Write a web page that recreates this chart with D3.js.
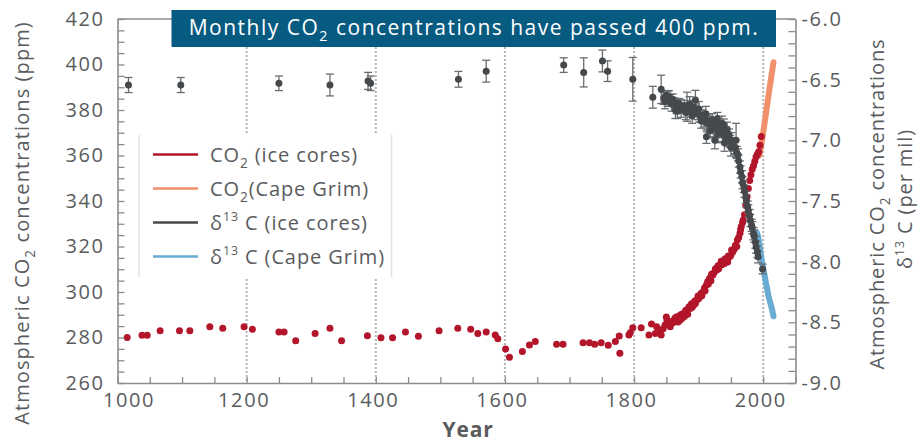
<!DOCTYPE html>
<html>
<head>
<meta charset="utf-8">
<script src="https://cdn.jsdelivr.net/npm/d3@7"></script>
<style>
  html, body { margin: 0; padding: 0; background: #fff; }
  svg { display: block; font-family: "Open Sans", "Noto Sans", sans-serif; }
</style>
</head>
<body>
<svg id="chart" width="923" height="444"></svg>
<script>
// ---- Data -------------------------------------------------------------
// CO2 from ice cores: [year, ppm]
const co2Ice = [
  [1015,280],[1038,281],[1046,281],[1066,283],[1096,283],[1112,283],[1143,284.7],[1163,284.1],
  [1196,284.7],[1209,283.6],[1250,282.4],[1258,282.4],[1276,278.6],[1306,281.8],[1329,284.1],
  [1347,278.6],[1387,280.8],[1408,279.9],[1426,279.9],[1446,282.4],[1466,280.5],[1498,283],
  [1527,284.1],[1547,283.6],[1558,281.8],[1571,282.4],[1585,281.1],[1589,279.4],[1601,274.9],
  [1607,271.3],[1627,273.8],[1638,276.7],[1647,278.2],[1680,277],[1690,277],[1721,277.7],
  [1731,277.7],[1739,277],[1749,277.7],[1760,276.6],[1771,278.2],[1777,280.7],[1778,273.1],
  [1792,281.1],[1794,282.1],[1798,284.3],[1811,284.3],[1823,281.1],[1827,285.9],[1833,281.8],
  [1835,284.7],[1840,282.8],[1842,281.1],[1845,283.9],[1848,285.5],[1850,289],[1851,287.6],
  [1853,286],[1856,284.7],[1858,287],[1860,286.5],[1861,286.9],[1863,288.5],[1866,289.1],
  [1868,286.8],[1871,287.6],[1872,290],[1874,288.4],[1876,290.5],[1878,289.2],[1880,292],
  [1881,291.3],[1883,290.2],[1885,293.5],[1887,292.8],[1889,294.8],[1890,293.3],[1892,294.2],
  [1894,296],[1895,295],[1897,296.5],[1899,298.2],[1900,297],[1902,297.9],[1904,299.5],
  [1905,298.4],[1907,300.1],[1909,301.8],[1910,300.6],[1912,303.1],[1914,304.6],[1915,303.5],
  [1917,306],[1919,305],[1920,307.8],[1922,307.5],[1924,308.6],[1926,310.2],[1928,309.7],
  [1930,311.5],[1931,310.2],[1933,311.9],[1935,313.5],[1936,312],[1938,313.3],[1940,312.5],
  [1941,314.6],[1943,314.1],[1945,313.2],[1946,315.8],[1948,315.5],[1950,316.2],[1951,318.5],
  [1953,317.7],[1955,318.8],[1957,320.5],[1959,320],[1960,322.9],[1962,324],[1964,325.8],
  [1965,327.5],[1966,328.8],[1968,330.5],[1969,331.6],[1971,334],[1973,338],[1975,341.9],
  [1977,345.5],[1979,349],[1981,351.5],[1983,354],[1985,355.5],[1987,357.5],[1989,359.5],
  [1991,360.5],[1993,361.7],[1995,364.5],[1997,368.3]
];

// CO2 at Cape Grim: [year, ppm]
const co2CapeGrim = [
  [1994,360],[1996,363],[1998,366.5],[2000,370],[2002,374],[2004,378],[2006,382],
  [2008,386],[2010,390],[2012,393.5],[2014,397.5],[2016,401]
];

// d13C from ice cores: [year, per mil, uncertainty]
const d13cIce = [
  [1017,-6.544,0.062],[1098,-6.544,0.062],[1250,-6.53,0.06],[1329,-6.544,0.09],[1388,-6.51,0.07],
  [1392,-6.53,0.06],[1528,-6.497,0.065],[1571,-6.43,0.09],[1691,-6.38,0.06],[1722,-6.44,0.12],
  [1751,-6.346,0.09],[1759,-6.43,0.085],[1798,-6.497,0.18],[1829,-6.645,0.09],[1842,-6.58,0.117],
  [1846,-6.654,0.05],[1848,-6.68,0.06],[1850,-6.63,0.04],[1852,-6.66,0.06],[1854,-6.64,0.05],
  [1857,-6.66,0.04],[1858,-6.70,0.06],[1860,-6.668,0.05],[1863,-6.69,0.04],[1864,-6.75,0.07],
  [1866,-6.72,0.06],[1867,-6.76,0.06],[1869,-6.695,0.04],[1872,-6.71,0.05],[1873,-6.75,0.06],
  [1875,-6.73,0.04],[1878,-6.72,0.05],[1880,-6.77,0.06],[1882,-6.723,0.12],[1885,-6.74,0.05],
  [1886,-6.70,0.06],[1888,-6.76,0.05],[1890,-6.80,0.06],[1891,-6.76,0.04],[1893,-6.73,0.06],
  [1895,-6.668,0.08],[1896,-6.75,0.05],[1898,-6.78,0.05],[1900,-6.74,0.06],[1901,-6.79,0.06],
  [1903,-6.80,0.05],[1904,-6.84,0.06],[1906,-6.80,0.05],[1908,-6.83,0.06],[1910,-6.818,0.05],
  [1911,-6.78,0.06],[1912,-6.97,0.055],[1913,-6.86,0.07],[1915,-6.86,0.05],[1917,-6.85,0.05],
  [1918,-6.92,0.06],[1919,-6.88,0.06],[1921,-6.83,0.05],[1923,-6.90,0.07],[1925,-7.0,0.07],
  [1926,-6.89,0.05],[1927,-6.87,0.06],[1929,-6.82,0.05],[1930,-6.95,0.07],[1931,-6.92,0.06],
  [1933,-6.915,0.05],[1935,-6.90,0.05],[1936,-6.86,0.06],[1937,-6.95,0.06],[1939,-6.874,0.05],
  [1940,-7.02,0.07],[1941,-6.97,0.06],[1943,-6.94,0.05],[1944,-6.91,0.06],[1945,-6.99,0.06],
  [1947,-6.956,0.05],[1949,-7.01,0.05],[1950,-7.06,0.07],[1951,-6.997,0.06],[1953,-7.04,0.05],
  [1955,-7.05,0.06],[1957,-7.06,0.06],[1958,-7.0,0.14],[1959,-7.10,0.05],[1961,-7.12,0.05],
  [1962,-7.17,0.05],[1964,-7.22,0.05],[1965,-7.26,0.05],[1967,-7.30,0.05],[1968,-7.35,0.05],
  [1970,-7.38,0.05],[1971,-7.42,0.05],[1973,-7.47,0.05],[1974,-7.50,0.05],[1976,-7.55,0.05],
  [1977,-7.58,0.05],[1979,-7.62,0.05],[1980,-7.66,0.05],[1982,-7.70,0.05],[1983,-7.72,0.05],
  [1985,-7.77,0.05],[1986,-7.79,0.05],[1988,-7.84,0.05],[1989,-7.88,0.05],[1991,-7.92,0.05],
  [1992,-7.96,0.05],[1999,-8.06,0.04]
];

// d13C at Cape Grim: [year, per mil]
const d13cCapeGrim = [
  [1990,-7.76],[1992,-7.79],[1994,-7.85],[1996,-7.93],[1998,-8.0],[2000,-8.05],[2002,-8.11],
  [2004,-8.17],[2006,-8.22],[2008,-8.28],[2010,-8.32],[2012,-8.36],[2014,-8.40],[2016,-8.45]
];

const yearTicks = [1000, 1200, 1400, 1600, 1800, 2000];
const ppmTicks = [260, 280, 300, 320, 340, 360, 380, 400, 420];
const d13cTicks = [-9.0, -8.5, -8.0, -7.5, -7.0, -6.5, -6.0];

// ---- Layout -----------------------------------------------------------
const plotL = 117.5, plotR = 795.5, plotT = 19, plotB = 383;
const colRed = "#b3152a", colOrange = "#f0916c", colGray = "#46494c", colBlue = "#68abd3";
const axisCol = "#8c8c8c", textCol = "#5a5b5d";

const svg = d3.select("#chart");

const x = d3.scaleLinear().domain([1000, 2050]).range([plotL, plotR]);
const yL = d3.scaleLinear().domain([260, 420]).range([plotB, plotT]);
const yR = d3.scaleLinear().domain([-9, -6]).range([plotB, plotT]);

// dotted century gridlines
svg.append("g").selectAll("line")
  .data(yearTicks.slice(1))
  .join("line")
  .attr("x1", d => x(d)).attr("x2", d => x(d))
  .attr("y1", plotT).attr("y2", plotB)
  .attr("stroke", "#b4b4b4").attr("stroke-width", 2)
  .attr("stroke-dasharray", "2,2");

// legend panel (covers gridlines behind it)
const lg = svg.append("g");
lg.append("rect").attr("x", 138.5).attr("y", 135).attr("width", 253).attr("height", 142).attr("fill", "#fff");
lg.append("line").attr("x1", 139).attr("x2", 139).attr("y1", 135).attr("y2", 277).attr("stroke", "#e2e2e2").attr("stroke-width", 1.5);
lg.append("line").attr("x1", 391.5).attr("x2", 391.5).attr("y1", 135).attr("y2", 277).attr("stroke", "#e2e2e2").attr("stroke-width", 1.5);

// rich text helper: segments with optional sub/superscript
function richText(sel, segs) {
  segs.forEach((s, i) => {
    const prev = i > 0 ? segs[i - 1] : null;
    const t = sel.append("tspan").text(s.t);
    let shift = 0; // in px
    const fs = parseFloat(sel.attr("font-size")) || 20;
    if (prev && prev.sub) shift -= 0.3 * fs;
    if (prev && prev.sup) shift += 0.42 * fs;
    if (s.sub) { shift += 0.3 * fs; t.attr("font-size", fs * 0.68); }
    if (s.sup) { shift -= 0.42 * fs; t.attr("font-size", fs * 0.62); }
    if (shift !== 0) t.attr("dy", shift);
  });
}

const legendItems = [
  { color: colRed,    segs: [{t:"CO"},{t:"2",sub:true},{t:" (ice cores)"}] },
  { color: colOrange, segs: [{t:"CO"},{t:"2",sub:true},{t:"(Cape Grim)"}] },
  { color: colGray,   segs: [{t:"δ"},{t:"13",sup:true},{t:" C (ice cores)"}] },
  { color: colBlue,   segs: [{t:"δ"},{t:"13",sup:true},{t:" C (Cape Grim)"}] }
];
legendItems.forEach((it, i) => {
  const cy = 154.5 + i * 34;
  lg.append("line").attr("x1", 153).attr("x2", 198).attr("y1", cy).attr("y2", cy)
    .attr("stroke", it.color).attr("stroke-width", 2.6);
  const t = lg.append("text").attr("x", 210).attr("y", cy + 7)
    .attr("fill", textCol).attr("font-size", 20).attr("letter-spacing", "0.9px");
  richText(t, it.segs);
});

// Cape Grim series as thick lines
const lineL = d3.line().x(d => x(d[0])).y(d => yL(d[1]));
const lineR = d3.line().x(d => x(d[0])).y(d => yR(d[1]));
svg.append("path").datum(co2CapeGrim).attr("d", lineL)
  .attr("fill", "none").attr("stroke", colOrange).attr("stroke-width", 6).attr("stroke-linecap", "round");
svg.append("path").datum(d13cCapeGrim).attr("d", lineR)
  .attr("fill", "none").attr("stroke", colBlue).attr("stroke-width", 6).attr("stroke-linecap", "round");

// CO2 ice core dots
svg.append("g").selectAll("circle").data(co2Ice).join("circle")
  .attr("cx", d => x(d[0])).attr("cy", d => yL(d[1])).attr("r", 3.5).attr("fill", colRed);

// d13C ice core points with error bars
const eb = svg.append("g").attr("stroke", "#6a6d70").attr("stroke-width", 1.3);
d13cIce.forEach(d => {
  const cx = x(d[0]), y1 = yR(d[1] + d[2]), y2 = yR(d[1] - d[2]);
  eb.append("line").attr("x1", cx).attr("x2", cx).attr("y1", y1).attr("y2", y2);
  eb.append("line").attr("x1", cx - 4).attr("x2", cx + 4).attr("y1", y1).attr("y2", y1);
  eb.append("line").attr("x1", cx - 4).attr("x2", cx + 4).attr("y1", y2).attr("y2", y2);
});
svg.append("g").selectAll("circle").data(d13cIce).join("circle")
  .attr("cx", d => x(d[0])).attr("cy", d => yR(d[1])).attr("r", 3.5).attr("fill", colGray);

// ---- Axes -------------------------------------------------------------
function styleAxis(g) {
  g.selectAll(".domain").attr("stroke", axisCol).attr("stroke-width", 1.6);
  g.selectAll(".tick line").attr("stroke", axisCol).attr("stroke-width", 1.3);
  g.selectAll("text").attr("fill", textCol).attr("font-size", 20)
    .attr("font-family", '"Open Sans", sans-serif').attr("letter-spacing", "1.6px");
}

// minor ticks
svg.append("g").attr("transform", `translate(0,${plotB})`)
  .call(d3.axisBottom(x).tickValues(d3.range(1000, 2051, 50)).tickSize(-6).tickSizeOuter(0).tickFormat(""))
  .call(styleAxis);
svg.append("g").attr("transform", `translate(${plotL},0)`)
  .call(d3.axisLeft(yL).tickValues(d3.range(260, 421, 5)).tickSize(-7).tickSizeOuter(0).tickFormat(""))
  .call(styleAxis);
svg.append("g").attr("transform", `translate(${plotR},0)`)
  .call(d3.axisRight(yR).tickValues(d3.range(-90, -59, 1).map(v => v / 10)).tickSize(-7).tickSizeOuter(0).tickFormat(""))
  .call(styleAxis);

// tick labels
const xLab = svg.append("g").attr("transform", `translate(0,${plotB})`)
  .call(d3.axisBottom(x).tickValues(yearTicks).tickSize(0).tickPadding(10).tickFormat(d3.format("d")))
  .call(styleAxis);
xLab.select(".domain").remove();
xLab.selectAll(".tick text").attr("dx", d => d === 1000 ? 11 : -3);

const yLab = svg.append("g").attr("transform", `translate(${plotL},0)`)
  .call(d3.axisLeft(yL).tickValues(ppmTicks).tickSize(0).tickPadding(13).tickFormat(d3.format("d")))
  .call(styleAxis);
yLab.select(".domain").remove();

const yRLab = svg.append("g").attr("transform", `translate(${plotR},0)`)
  .call(d3.axisRight(yR).tickValues(d13cTicks).tickSize(0).tickPadding(6).tickFormat(v => v.toFixed(1)))
  .call(styleAxis);
yRLab.select(".domain").remove();

// top frame line
svg.append("line").attr("x1", plotL).attr("x2", plotR).attr("y1", plotT).attr("y2", plotT)
  .attr("stroke", axisCol).attr("stroke-width", 1.6);

// headline banner
svg.append("rect").attr("x", 171.5).attr("y", 10).attr("width", 604.5).attr("height", 37).attr("fill", "#075b81");
const head = svg.append("text").attr("x", 474).attr("y", 35).attr("text-anchor", "middle")
  .attr("fill", "#fff").attr("font-size", 21).attr("letter-spacing", "1.5px");
richText(head, [{t:"Monthly CO"},{t:"2",sub:true},{t:" concentrations have passed 400 ppm."}]);

// axis titles
svg.append("text").attr("transform", "translate(468,437)").attr("text-anchor", "middle")
  .attr("fill", textCol).attr("font-size", 21).attr("font-weight", "bold").attr("letter-spacing", "0.8px").text("Year");

const lt = svg.append("text").attr("transform", "translate(22,223) rotate(-90)").attr("dy", "0.35em")
  .attr("text-anchor", "middle").attr("fill", textCol).attr("font-size", 20).attr("letter-spacing", "1.1px");
richText(lt, [{t:"Atmospheric CO"},{t:"2",sub:true},{t:" concentrations (ppm)"}]);

const rt1 = svg.append("text").attr("transform", "translate(877,204) rotate(-90)").attr("dy", "0.35em")
  .attr("text-anchor", "middle").attr("fill", textCol).attr("font-size", 20).attr("letter-spacing", "0.9px");
richText(rt1, [{t:"Atmospheric CO"},{t:"2",sub:true},{t:" concentrations"}]);
const rt2 = svg.append("text").attr("transform", "translate(905,199) rotate(-90)").attr("dy", "0.35em")
  .attr("text-anchor", "middle").attr("fill", textCol).attr("font-size", 20).attr("letter-spacing", "0.9px");
richText(rt2, [{t:"δ"},{t:"13",sup:true},{t:" C (per mil)"}]);
</script>
</body>
</html>
